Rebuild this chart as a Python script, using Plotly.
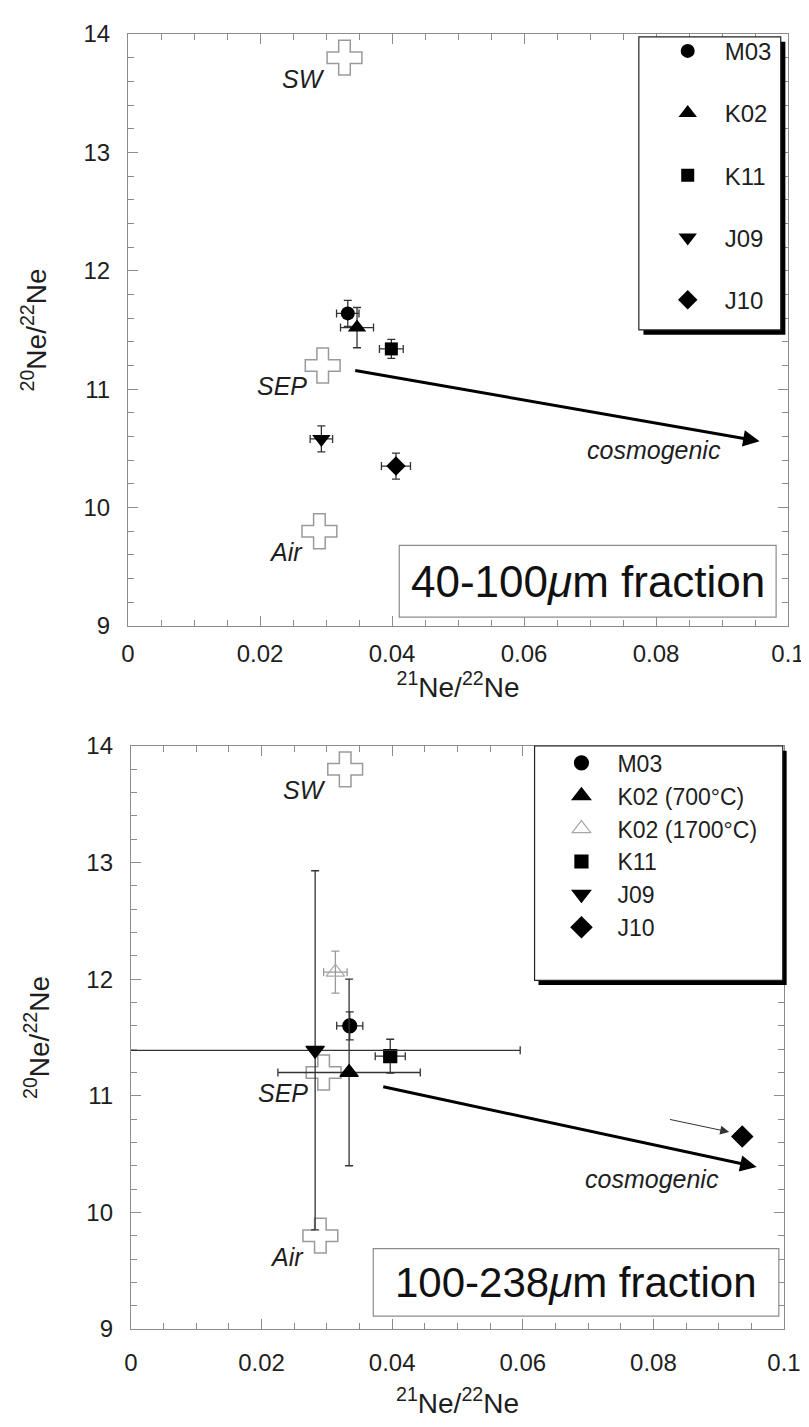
import plotly.graph_objects as go

# ---------------- data ----------------
ref_names = ["SW", "SEP", "Air"]
ref_x = [0.0328, 0.0295, 0.0290]
ref_y = [13.80, 11.20, 9.80]

top_samples = ["M03", "K02", "K11", "J09", "J10"]
top_x = [0.0333, 0.0347, 0.0399, 0.0293, 0.0406]
top_xerr = [0.0017, 0.0025, 0.0018, 0.0017, 0.0022]
top_y = [11.64, 11.52, 11.34, 10.58, 10.35]
top_yerr = [0.11, 0.17, 0.08, 0.11, 0.11]

bot_samples = ["M03", "K02 (700°C)", "K02 (1700°C)", "K11", "J09", "J10"]
bot_x = [0.0335, 0.0334, 0.0313, 0.0397, 0.0282, 0.0936]
bot_xerr = [0.0020, 0.0109, 0.0018, 0.0023, 0.0314, 0.0]
bot_y = [11.60, 11.20, 12.06, 11.34, 11.39, 10.65]
bot_yerr = [0.12, 0.80, 0.18, 0.145, 1.54, 0.0]

top_arrow_x = [0.0342, 0.0957]
top_arrow_y = [11.16, 10.56]
bot_arrow_x = [0.0384, 0.0958]
bot_arrow_y = [11.08, 10.39]
j10_arrow_x = [0.0823, 0.0916]
j10_arrow_y = [10.80, 10.69]

x_ticks = [0, 0.02, 0.04, 0.06, 0.08, 0.1]
x_ticktext = ["0", "0.02", "0.04", "0.06", "0.08", "0.1"]
y_ticks = [9, 10, 11, 12, 13, 14]

# ---------------- styles ----------------
FONT = "Liberation Sans, Arial, Helvetica, sans-serif"
AX = "#8c8c8c"
REFC = "#9a9a9a"
TXT = "#1e1e1e"
sym_top = ["circle", "triangle-up", "square", "triangle-down", "diamond"]
size_top = [14, 16, 13, 16, 15]
sym_bot = ["circle", "triangle-up", "triangle-up-open", "square", "triangle-down", "diamond"]
size_bot = [14, 16, 16, 13, 16, 16]
col_bot = ["black", "black", "#a8a8a8", "black", "black", "black"]

fig = go.Figure()

# reference crosses
for xa, ya in [("x", "y"), ("x2", "y2")]:
    fig.add_trace(go.Scatter(
        x=ref_x, y=ref_y, mode="markers", xaxis=xa, yaxis=ya, showlegend=False,
        marker=dict(symbol="cross-open", size=29, color=REFC, line=dict(color=REFC, width=1.5)),
        hoverinfo="skip"))

# top samples
for i, n in enumerate(top_samples):
    fig.add_trace(go.Scatter(
        x=[top_x[i]], y=[top_y[i]], mode="markers", name=n, xaxis="x", yaxis="y",
        legend="legend", legendgroup="t" + n,
        marker=dict(symbol=sym_top[i], size=size_top[i], color="black"),
        error_x=dict(type="data", array=[top_xerr[i]], color="#333", thickness=1.3, width=4),
        error_y=dict(type="data", array=[top_yerr[i]], color="#333", thickness=1.3, width=4)))

# bottom samples
for i, n in enumerate(bot_samples):
    ec = "#999" if col_bot[i] != "black" else "#333"
    fig.add_trace(go.Scatter(
        x=[bot_x[i]], y=[bot_y[i]], mode="markers", name=n, xaxis="x2", yaxis="y2",
        legend="legend2", legendgroup="b" + n,
        marker=dict(symbol=sym_bot[i], size=size_bot[i], color=col_bot[i],
                    line=dict(color=col_bot[i], width=1.2)),
        error_x=dict(type="data", array=[bot_xerr[i]], color=ec, thickness=1.3, width=4,
                     visible=bot_xerr[i] > 0),
        error_y=dict(type="data", array=[bot_yerr[i]], color=ec, thickness=1.3, width=4,
                     visible=bot_yerr[i] > 0)))

TITLE_FONT = dict(family=FONT, size=28, color=TXT)


def xaxis_cfg(domain, anchor, label_off, title_off):
    return dict(domain=domain, anchor=anchor, showgrid=False, zeroline=False,
                showline=True, linecolor=AX, linewidth=1.2, mirror="allticks",
                ticks="inside", ticklen=10, tickcolor=AX, tickwidth=1.2,
                tickfont=dict(family=FONT, size=24, color=TXT), ticklabelstandoff=label_off,
                range=[0, 0.1], tickvals=x_ticks, ticktext=x_ticktext,
                minor=dict(dtick=0.005, ticks="inside", ticklen=6, tickcolor=AX, tickwidth=1),
                title=dict(text="<sup>21</sup>Ne/<sup>22</sup>Ne", font=TITLE_FONT, standoff=title_off))


def yaxis_cfg(domain, anchor):
    return dict(domain=domain, anchor=anchor, showgrid=False, zeroline=False,
                showline=True, linecolor=AX, linewidth=1.2, mirror="allticks",
                ticks="inside", ticklen=10, tickcolor=AX, tickwidth=1.2,
                tickfont=dict(family=FONT, size=24, color=TXT), ticklabelstandoff=12,
                range=[9, 14], tickvals=y_ticks,
                minor=dict(dtick=0.2, ticks="inside", ticklen=6, tickcolor=AX, tickwidth=1),
                title=dict(text="<sup>20</sup>Ne/<sup>22</sup>Ne", font=TITLE_FONT, standoff=28))


shapes = []
# legend boxes with shadow
for (xr, yr, x0, x1, y0, y1, dx, dy) in [
        ("x domain", "y domain", 0.774, 0.989, 0.50, 0.995, 0.007, 0.008),
        ("x2 domain", "y2 domain", 0.618, 0.998, 0.598, 1.0, 0.006, 0.008)]:
    shapes.append(dict(type="rect", xref=xr, yref=yr, x0=x0 + dx, x1=x1 + dx, y0=y0 - dy, y1=y1 - dy,
                       fillcolor="black", line=dict(width=0), layer="above"))
    shapes.append(dict(type="rect", xref=xr, yref=yr, x0=x0, x1=x1, y0=y0, y1=y1,
                       fillcolor="white", line=dict(color="#222", width=1.2), layer="above"))
# fraction label boxes
shapes.append(dict(type="rect", xref="x domain", yref="y domain", x0=0.411, x1=0.982, y0=0.015, y1=0.136,
                   fillcolor="white", line=dict(color=AX, width=1.2), layer="above"))
shapes.append(dict(type="rect", xref="x2 domain", yref="y2 domain", x0=0.371, x1=0.992, y0=0.022, y1=0.138,
                   fillcolor="white", line=dict(color=AX, width=1.2), layer="above"))

ann = []
lab_font = dict(family=FONT, size=25, color=TXT)
for xr, yr in [("x", "y"), ("x2", "y2")]:
    for n, xv, yv, xs in zip(ref_names, ref_x, ref_y, [-17, -14, -14]):
        ann.append(dict(x=xv, y=yv, xref=xr, yref=yr, text="<i>%s</i>" % n, showarrow=False,
                        xanchor="right", yanchor="middle", xshift=xs, yshift=-21, font=lab_font))
# cosmogenic arrows
ann.append(dict(x=top_arrow_x[1], y=top_arrow_y[1], ax=top_arrow_x[0], ay=top_arrow_y[0],
                xref="x", yref="y", axref="x", ayref="y", showarrow=True, arrowhead=2,
                arrowsize=1.1, arrowwidth=3, arrowcolor="black", text=""))
ann.append(dict(x=bot_arrow_x[1], y=bot_arrow_y[1], ax=bot_arrow_x[0], ay=bot_arrow_y[0],
                xref="x2", yref="y2", axref="x2", ayref="y2", showarrow=True, arrowhead=2,
                arrowsize=1.1, arrowwidth=3, arrowcolor="black", text=""))
ann.append(dict(x=j10_arrow_x[1], y=j10_arrow_y[1], ax=j10_arrow_x[0], ay=j10_arrow_y[0],
                xref="x2", yref="y2", axref="x2", ayref="y2", showarrow=True, arrowhead=2,
                arrowsize=1.8, arrowwidth=1, arrowcolor="#333", text=""))
ann.append(dict(x=0.0901, y=10.49, xref="x", yref="y", text="<i>cosmogenic</i>", showarrow=False,
                xanchor="right", yanchor="middle", font=lab_font))
ann.append(dict(x=0.0904, y=10.29, xref="x2", yref="y2", text="<i>cosmogenic</i>", showarrow=False,
                xanchor="right", yanchor="middle", font=lab_font))
# fraction labels
ann.append(dict(x=0.6965, y=0.0755, xref="x domain", yref="y domain", text="40-100<i>μ</i>m fraction",
                showarrow=False, xanchor="center", yanchor="middle",
                font=dict(family=FONT, size=44, color="#111")))
ann.append(dict(x=0.6815, y=0.080, xref="x2 domain", yref="y2 domain", text="100-238<i>μ</i>m fraction",
                showarrow=False, xanchor="center", yanchor="middle",
                font=dict(family=FONT, size=42, color="#111")))

fig.update_layout(
    width=809, height=1427,
    margin=dict(l=120, r=25, t=17, b=106),
    paper_bgcolor="white", plot_bgcolor="white",
    xaxis=xaxis_cfg([0, 1], "y", 6, 4), yaxis=yaxis_cfg([0.5429, 1], "x"),
    xaxis2=xaxis_cfg([0.0045, 0.994], "y2", 12, 18), yaxis2=yaxis_cfg([0, 0.4502], "x2"),
    shapes=shapes, annotations=ann,
    font=dict(family=FONT, color=TXT),
    legend=dict(x=0.792, y=1.004, xanchor="left", yanchor="top", bgcolor="rgba(0,0,0,0)",
                borderwidth=0, font=dict(family=FONT, size=24, color=TXT), itemwidth=64,
                traceorder="grouped", tracegroupgap=28, itemclick=False, itemdoubleclick=False),
    legend2=dict(x=0.6325, y=0.4538, xanchor="left", yanchor="top", bgcolor="rgba(0,0,0,0)",
                 borderwidth=0, font=dict(family=FONT, size=23, color=TXT), itemwidth=62,
                 traceorder="grouped", tracegroupgap=0, itemclick=False, itemdoubleclick=False),
)

fig.write_html("out.html")
